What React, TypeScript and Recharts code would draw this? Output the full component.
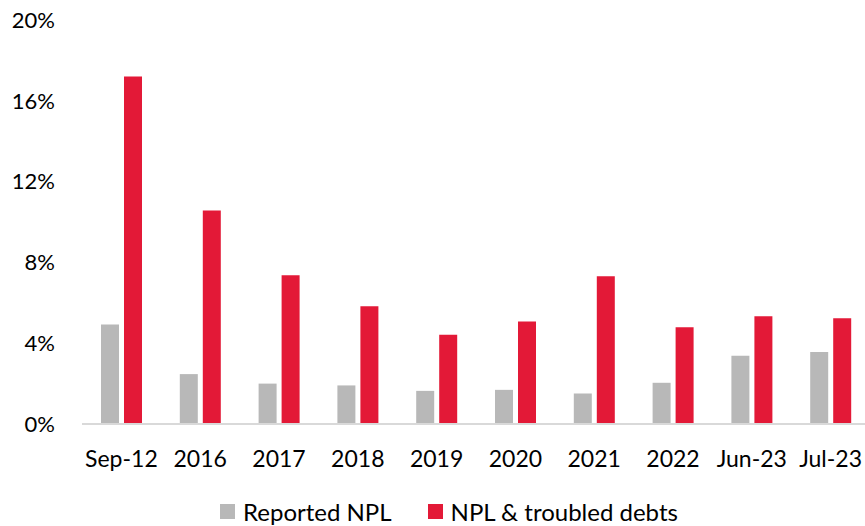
import { BarChart, Bar, XAxis, YAxis, Legend } from 'recharts'

const categories = ['Sep-12', '2016', '2017', '2018', '2019', '2020', '2021', '2022', 'Jun-23', 'Jul-23']
const reportedNpl = [4.93, 2.47, 2.0, 1.91, 1.64, 1.69, 1.51, 2.04, 3.38, 3.56]
const troubledDebts = [17.2, 10.57, 7.36, 5.83, 4.42, 5.08, 7.31, 4.79, 5.34, 5.23]
const yTicks = [0, 4, 8, 12, 16, 20]

const GRAY = '#b8b8b8'
const RED = '#e31937'
const FONT = 'Lato, "Noto Sans", sans-serif'

const data = categories.map((c, i) => ({
  name: c,
  reported: reportedNpl[i],
  troubled: troubledDebts[i],
}))

function LegendContent() {
  const items = [
    { label: 'Reported NPL', color: GRAY },
    { label: 'NPL & troubled debts', color: RED },
  ]
  return (
    <div
      style={{
        display: 'flex',
        justifyContent: 'flex-start',
        paddingLeft: 220,
        paddingTop: 15,
        fontFamily: FONT,
        fontSize: 24,
        lineHeight: '25px',
        color: '#000',
      }}
    >
      {items.map((it, i) => (
        <div key={it.label} style={{ display: 'flex', alignItems: 'center', marginRight: i === 0 ? 36 : 0 }}>
          <span style={{ width: 15, height: 15, background: it.color, display: 'inline-block', marginRight: 8 }} />
          <span>{it.label}</span>
        </div>
      ))}
    </div>
  )
}

export default function App() {
  return (
    <div style={{ position: 'absolute', left: 0, top: 0 }}>
      <BarChart
        width={870}
        height={526}
        data={data}
        margin={{ top: 20, right: 0, bottom: 0, left: 0 }}
        barSize={18}
        barGap={5}
      >
        <XAxis
          dataKey="name"
          stroke="#d9d9d9"
          strokeWidth={2}
          tickLine={false}
          tickSize={0}
          tickMargin={27}
          height={60}
          interval={0}
          tick={{ fill: '#000', fontSize: 23, fontFamily: FONT }}
        />
        <YAxis
          domain={[0, 20]}
          ticks={yTicks}
          width={82}
          axisLine={false}
          tickLine={false}
          tickSize={0}
          tickMargin={27}
          tickFormatter={(v: number) => `${v}%`}
          tick={{ fill: '#000', fontSize: 22, fontFamily: FONT }}
        />
        <Legend verticalAlign="bottom" height={42} content={<LegendContent />} />
        <Bar dataKey="reported" name="Reported NPL" fill={GRAY} isAnimationActive={false} />
        <Bar dataKey="troubled" name="NPL & troubled debts" fill={RED} isAnimationActive={false} />
      </BarChart>
    </div>
  )
}
